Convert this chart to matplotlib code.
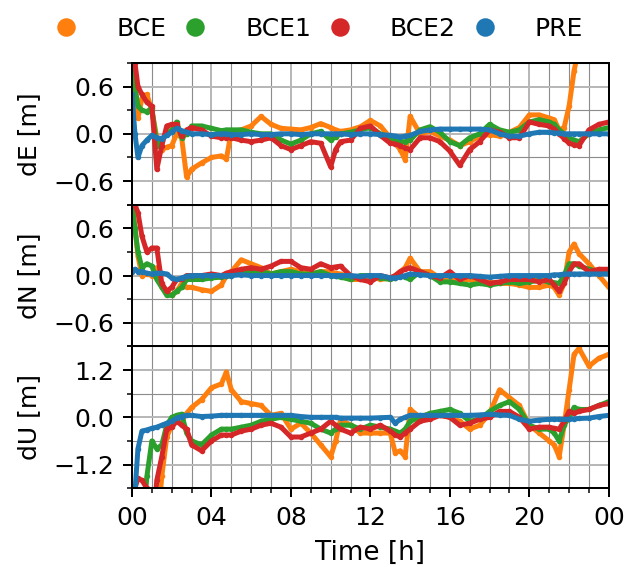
import numpy as np
import matplotlib
matplotlib.use("Agg")
import matplotlib.pyplot as plt
from matplotlib.ticker import MultipleLocator, FuncFormatter
from matplotlib.lines import Line2D

# time of day [h]
hours = [
    0, 0.15, 0.3, 0.5, 0.75, 1.0, 1.25,
    1.5, 1.75, 2.0, 2.25, 2.5, 2.75, 3.0,
    3.5, 4.0, 4.5, 4.75, 5.0, 5.5, 6.0,
    6.5, 7.0, 7.5, 8.0, 8.5, 9.0, 9.5,
    10.0, 10.25, 10.5, 11.0, 11.5, 12.0, 12.5,
    13.0, 13.25, 13.5, 13.75, 14.0, 14.5, 15.0,
    15.5, 16.0, 16.5, 17.0, 17.5, 18.0, 18.5,
    19.0, 19.5, 20.0, 20.5, 21.0, 21.25, 21.5,
    21.75, 22.0, 22.25, 22.5, 23.0, 23.5, 24.0,
]

# ---- dE [m]
de_bce = [
    0.95, 0.6, 0.2, 0.45, 0.5, 0.3, -0.05,
    -0.2, -0.17, -0.15, 0.0, -0.05, -0.55, -0.45,
    -0.37, -0.3, -0.28, -0.32, 0.03, 0.05, 0.1,
    0.22, 0.12, 0.07, 0.06, 0.05, 0.08, 0.13,
    0.08, 0.05, 0.03, 0.05, 0.09, 0.17, 0.1,
    -0.05, -0.12, -0.2, -0.33, 0.22, 0.0, 0.03,
    -0.03, -0.08, -0.15, -0.1, -0.03, -0.01, -0.03,
    0.02, 0.08, 0.24, 0.24, 0.2, 0.18, 0.05,
    0.08, 0.35, 0.8, 1.1, 1.5, 1.8, 2.0,
]
de_bce1 = [
    0.9, 0.6, 0.35, 0.3, 0.28, 0.33, -0.15,
    -0.08, 0.0, 0.05, 0.15, -0.05, 0.0, 0.1,
    0.1, 0.07, 0.04, 0.05, 0.05, 0.05, 0.02,
    0.0, 0.0, -0.08, -0.13, -0.08, 0.0, 0.03,
    -0.08, -0.04, 0.0, 0.02, 0.05, 0.08, 0.0,
    -0.05, -0.07, -0.1, -0.1, -0.08, 0.05, 0.09,
    0.02, -0.1, -0.15, -0.05, 0.0, 0.12, 0.05,
    0.02, 0.05, 0.15, 0.18, 0.15, 0.12, 0.05,
    0.0, -0.05, -0.08, -0.1, 0.0, 0.05, 0.08,
]
de_bce2 = [
    0.95, 0.9, 0.6, 0.5, 0.4, 0.35, -0.45,
    -0.15, 0.1, 0.12, 0.12, -0.03, 0.05, 0.08,
    0.05, -0.03, -0.05, -0.05, -0.05, -0.08, -0.1,
    -0.08, -0.05, -0.15, -0.2, -0.15, -0.1, -0.12,
    -0.42, -0.2, -0.1, -0.08, 0.07, 0.1, -0.02,
    -0.12, -0.13, -0.15, -0.18, -0.2, -0.05, -0.05,
    -0.1, -0.22, -0.4, -0.2, -0.1, 0.05, 0.02,
    -0.05, -0.05, 0.15, 0.12, 0.1, 0.06, 0.0,
    -0.06, -0.12, -0.14, -0.15, 0.05, 0.12, 0.15,
]
de_pre = [
    0.5, 0.0, -0.3, -0.15, -0.08, -0.02, -0.05,
    -0.06, -0.02, 0.02, 0.07, 0.04, 0.02, 0.0,
    0.0, -0.01, 0.0, 0.0, -0.01, -0.01, 0.0,
    -0.01, -0.01, 0.0, 0.0, -0.01, 0.0, 0.0,
    0.0, 0.0, 0.0, -0.01, 0.0, 0.0, -0.01,
    -0.02, -0.03, -0.04, -0.03, -0.02, 0.03, 0.05,
    0.06, 0.06, 0.06, 0.06, 0.06, 0.05, 0.0,
    -0.03, -0.03, 0.0, 0.02, 0.02, 0.01, 0.01,
    0.0, 0.0, 0.0, 0.0, 0.0, 0.0, 0.0,
]

# ---- dN [m]
dn_bce = [
    0.95, 0.6, 0.25, 0.0, 0.02, 0.0, 0.1,
    -0.15, -0.2, -0.25, -0.2, -0.1, -0.15, -0.15,
    -0.18, -0.2, -0.12, 0.0, 0.05, 0.2, 0.15,
    0.1, 0.02, 0.05, 0.08, 0.05, 0.02, 0.05,
    0.05, 0.03, 0.02, -0.05, -0.05, 0.0, -0.05,
    -0.03, 0.0, 0.05, 0.1, 0.22, 0.05, 0.05,
    -0.03, -0.02, -0.05, -0.05, -0.08, -0.08, -0.1,
    -0.1, -0.12, -0.15, -0.15, -0.12, -0.15, -0.25,
    -0.1, 0.3, 0.4, 0.28, 0.15, 0.0, -0.15,
]
dn_bce1 = [
    0.9, 0.6, 0.3, 0.1, 0.15, 0.12, -0.05,
    -0.15, -0.25, -0.25, -0.2, -0.15, -0.05, -0.05,
    -0.05, -0.03, -0.02, -0.01, 0.0, 0.05, 0.05,
    0.05, 0.02, 0.05, 0.05, 0.02, 0.02, 0.05,
    0.0, -0.01, -0.02, -0.05, 0.0, 0.0, -0.03,
    -0.05, -0.03, 0.0, -0.02, -0.05, 0.05, 0.0,
    -0.08, -0.08, -0.1, -0.12, -0.1, -0.12, -0.1,
    -0.08, -0.1, -0.08, -0.06, -0.08, -0.09, -0.1,
    0.0, 0.15, 0.15, 0.12, 0.08, 0.05, 0.05,
]
dn_bce2 = [
    0.95, 0.9, 0.8, 0.5, 0.3, 0.35, 0.35,
    -0.1, -0.2, -0.15, -0.05, -0.05, 0.0, 0.0,
    0.0, 0.02, 0.0, 0.03, 0.05, 0.08, 0.1,
    0.08, 0.12, 0.18, 0.18, 0.1, 0.08, 0.15,
    0.1, 0.11, 0.12, 0.0, -0.05, -0.08, 0.0,
    -0.03, 0.0, 0.05, 0.08, 0.1, 0.05, 0.0,
    -0.03, 0.05, -0.05, 0.0, -0.05, -0.1, -0.08,
    -0.05, -0.05, -0.05, -0.08, -0.05, -0.12, -0.2,
    -0.1, 0.05, 0.15, 0.15, 0.05, 0.08, 0.08,
]
dn_pre = [
    0.05, 0.08, 0.05, 0.05, 0.03, 0.02, 0.03,
    0.03, 0.02, -0.03, -0.05, -0.03, -0.01, 0.0,
    0.0, 0.0, 0.0, 0.0, 0.0, 0.01, 0.0,
    0.0, 0.0, 0.0, 0.0, 0.0, 0.0, 0.0,
    0.0, 0.0, 0.0, 0.0, -0.01, 0.0, 0.0,
    -0.03, -0.03, -0.02, 0.0, 0.02, 0.01, 0.0,
    0.0, 0.0, 0.0, 0.0, -0.01, -0.02, -0.01,
    0.0, 0.0, 0.0, 0.0, 0.0, 0.01, 0.01,
    0.02, 0.02, 0.02, 0.02, 0.02, 0.02, 0.02,
]

# ---- dU [m]
du_bce = [
    -3, -3, -3, -3, -3, -3, -3,
    -1.5, -0.5, -0.2, 0.0, -0.1, 0.1, 0.25,
    0.45, 0.75, 0.85, 1.15, 0.7, 0.4, 0.35,
    0.3, 0.05, 0.1, -0.3, -0.15, -0.4, -0.7,
    -1.0, -0.6, -0.05, -0.2, -0.4, -0.4, -0.4,
    -0.4, -0.9, -0.85, -1.0, 0.2, 0.0, 0.1,
    0.05, 0.0, -0.1, -0.3, -0.2, 0.1, 0.7,
    0.5, 0.3, -0.2, -0.4, -0.6, -0.7, -1.0,
    -0.2, 0.7, 1.6, 1.75, 1.3, 1.5, 1.6,
]
du_bce1 = [
    -3, -3, -3, -3, -1.5, -0.6, -0.8,
    -0.7, -0.2, 0.0, 0.05, 0.08, -0.4, -0.6,
    -0.7, -0.45, -0.3, -0.3, -0.3, -0.25, -0.2,
    -0.1, -0.05, 0.0, -0.05, -0.1, -0.15, -0.3,
    -0.4, -0.3, -0.2, -0.2, -0.3, -0.2, -0.25,
    -0.3, -0.35, -0.4, -0.3, -0.1, 0.0, 0.1,
    0.15, 0.2, 0.1, -0.1, -0.05, 0.15, 0.3,
    0.4, 0.2, -0.2, -0.3, -0.3, -0.4, -0.6,
    -0.2, 0.0, 0.25, 0.2, 0.2, 0.3, 0.4,
]
du_bce2 = [
    -3, -1.8, -1.55, -1.6, -1.8, -3, -1.6,
    -1.0, -0.3, -0.25, -0.1, -0.2, -0.3, -0.7,
    -0.85, -0.6, -0.45, -0.45, -0.45, -0.35, -0.3,
    -0.2, -0.15, -0.25, -0.5, -0.5, -0.4, -0.3,
    -0.1, -0.2, -0.3, -0.4, -0.25, -0.3, -0.2,
    -0.35, -0.45, -0.5, -0.4, -0.3, -0.1, -0.05,
    0.05, 0.0, -0.2, -0.15, -0.05, 0.0, 0.15,
    0.15, 0.0, -0.3, -0.25, -0.25, -0.28, -0.3,
    -0.1, 0.15, 0.1, 0.15, 0.2, 0.3, 0.35,
]
du_pre = [
    -3, -1.9, -0.8, -0.35, -0.32, -0.28, -0.25,
    -0.2, -0.15, -0.1, -0.02, 0.02, 0.05, 0.05,
    0.02, 0.03, 0.05, 0.05, 0.05, 0.05, 0.05,
    0.05, 0.05, 0.05, 0.05, 0.02, 0.0, 0.0,
    0.0, 0.0, -0.02, -0.02, -0.02, -0.02, -0.01,
    0.0, -0.15, -0.05, 0.0, 0.05, 0.05, 0.05,
    0.05, 0.05, 0.05, 0.05, 0.06, 0.08, 0.06,
    0.05, -0.05, -0.1, -0.07, -0.05, -0.05, -0.05,
    -0.05, -0.05, -0.04, -0.03, -0.02, 0.02, 0.05,
]

labels = ["BCE", "BCE1", "BCE2", "PRE"]
colors = ["#ff7f0e", "#2ca02c", "#d62728", "#1f77b4"]

panels = [
    ("dE [m]", [de_bce, de_bce1, de_bce2, de_pre], 0.9, 0.6),
    ("dN [m]", [dn_bce, dn_bce1, dn_bce2, dn_pre], 0.9, 0.6),
    ("dU [m]", [du_bce, du_bce1, du_bce2, du_pre], 1.8, 1.2),
]

DPI = 180
fig, axes = plt.subplots(3, 1, figsize=(627 / DPI, 567 / DPI), dpi=DPI, sharex=True)
fig.subplots_adjust(left=0.2105, right=0.971, top=0.889, bottom=0.139, hspace=0)

t = np.array(hours)

for ax, (ylabel, series, lim, step) in zip(axes, panels):
    for vals, c in zip(series, colors):
        ax.plot(t, vals, "-", color=c, lw=2.0, marker="o", ms=1.2,
                solid_joinstyle="round", solid_capstyle="round")
    ax.set_ylim(-lim, lim)
    ax.set_xlim(0, 24)
    ax.set_ylabel(ylabel, labelpad=5)
    ax.yaxis.set_major_locator(MultipleLocator(step))
    ax.yaxis.set_minor_locator(MultipleLocator(step / 2))
    ax.xaxis.set_major_locator(MultipleLocator(4))
    ax.xaxis.set_minor_locator(MultipleLocator(1))
    ax.grid(which="major", color="#b8b8b8", lw=0.8)
    ax.grid(which="minor", color="#8c8c8c", lw=0.45)
    ax.set_axisbelow(True)

fig.align_ylabels(axes)
axes[-1].xaxis.set_major_formatter(FuncFormatter(lambda x, p: f"{int(round(x)) % 24:02d}"))
axes[-1].set_xlabel("Time [h]", fontsize=10.5)

handles = [Line2D([], [], ls="", marker="o", ms=6.4, color=c) for c in colors]
fig.legend(handles, labels, loc="center left", bbox_to_anchor=(0.0694, 1 - 29 / 567),
           borderaxespad=0, ncol=4, frameon=False, handletextpad=1.5,
           columnspacing=0.66, handlelength=1.0)

fig.savefig("out.png", dpi=DPI)
